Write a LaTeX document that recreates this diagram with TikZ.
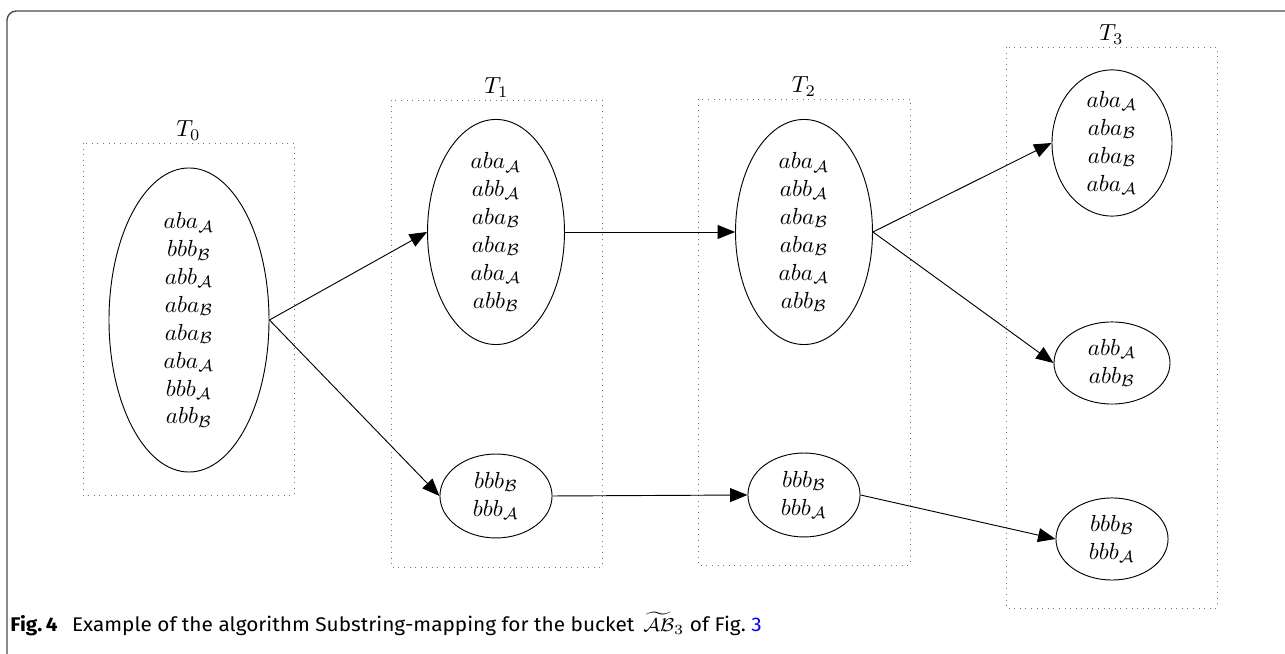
\documentclass[tikz,border=0pt]{standalone}
\usepackage{fontspec}
\usepackage{xcolor}
\usepackage{graphicx}
\usetikzlibrary{shapes.geometric, arrows.meta, positioning}
\newfontfamily\capfont{Fira Sans}

\begin{document}
\begin{tikzpicture}[x=0.43pt, y=-0.43pt,
        >={Triangle[length=7.5pt, width=6pt]},
        bucket/.style={ellipse, draw, inner sep=0pt, align=center},
        cluster/.style={draw=black!55, dotted},
        ]
        \useasboundingbox (0,0) rectangle (1285,654);
        \draw[black!70, line width=0.6pt, rounded corners=4pt] (7,654) -- (7,11) -- (1285,11);
%
        \draw[cluster] (83,143) rectangle (294,495);
        \draw[cluster] (391,100) rectangle (602,567);
        \draw[cluster] (698,99) rectangle (910,565);
        \draw[cluster] (1006,47) rectangle (1217,608);
        \node[anchor=south, inner sep=1pt] (T0) at (188.5,143) {$T_0$};
        \node[anchor=south, inner sep=1pt] (T1) at (496.5,100) {$T_1$};
        \node[anchor=south, inner sep=1pt] (T2) at (804,99) {$T_2$};
        \node[anchor=south, inner sep=1pt] (T3) at (1111.5,47) {$T_3$};
%
        \node[bucket, minimum width=68.8pt, minimum height=120.4pt] (s0) at (189,320)
            {$aba_{\mathcal{A}}$\\ $bbb_{\mathcal{B}}$\\ $abb_{\mathcal{A}}$\\ $aba_{\mathcal{B}}$\\
             $aba_{\mathcal{B}}$\\ $aba_{\mathcal{A}}$\\ $bbb_{\mathcal{A}}$\\ $abb_{\mathcal{B}}$};
        \node[bucket, minimum width=58.9pt, minimum height=86.4pt] (s1a) at (496,232)
            {$aba_{\mathcal{A}}$\\ $abb_{\mathcal{A}}$\\ $aba_{\mathcal{B}}$\\ $aba_{\mathcal{B}}$\\
             $aba_{\mathcal{A}}$\\ $abb_{\mathcal{B}}$};
        \node[bucket, minimum width=48.2pt, minimum height=36.1pt] (s1b) at (496,496)
            {$bbb_{\mathcal{B}}$\\ $bbb_{\mathcal{A}}$};
        \node[bucket, minimum width=58.9pt, minimum height=86.4pt] (s2a) at (804,232)
            {$aba_{\mathcal{A}}$\\ $abb_{\mathcal{A}}$\\ $aba_{\mathcal{B}}$\\ $aba_{\mathcal{B}}$\\
             $aba_{\mathcal{A}}$\\ $abb_{\mathcal{B}}$};
        \node[bucket, minimum width=48.2pt, minimum height=36.1pt] (s2b) at (804,495)
            {$bbb_{\mathcal{B}}$\\ $bbb_{\mathcal{A}}$};
        \node[bucket, minimum width=51.6pt, minimum height=52.5pt] (s3a) at (1112,143)
            {$aba_{\mathcal{A}}$\\ $aba_{\mathcal{B}}$\\ $aba_{\mathcal{B}}$\\ $aba_{\mathcal{A}}$};
        \node[bucket, minimum width=49.9pt, minimum height=35.3pt] (s3b) at (1112,363)
            {$abb_{\mathcal{A}}$\\ $abb_{\mathcal{B}}$};
        \node[bucket, minimum width=48.2pt, minimum height=35.3pt] (s3c) at (1112,539)
            {$bbb_{\mathcal{B}}$\\ $bbb_{\mathcal{A}}$};
%
        \path[->]
        (s0.east) edge (s1a.west)
                  edge (s1b.west)
        (s1a.east) edge (s2a.west)
        (s1b.east) edge (s2b.west)
        (s2a.east) edge (s3a.west)
                   edge (s3b.west)
        (s2b.east) edge (s3c.west);
%
        \node[anchor=base west, inner sep=0pt] (cap) at (10,632)
            {\resizebox{323pt}{\height}{\capfont\fontsize{8.5}{10}\selectfont
             \textbf{Fig.\,4}\hspace{0.7em}Example of the algorithm Substring-mapping for the bucket\,
             $\widetilde{\mathcal{AB}}_3$ of Fig.~\textcolor{blue}{3}}};
\end{tikzpicture}
\end{document}
